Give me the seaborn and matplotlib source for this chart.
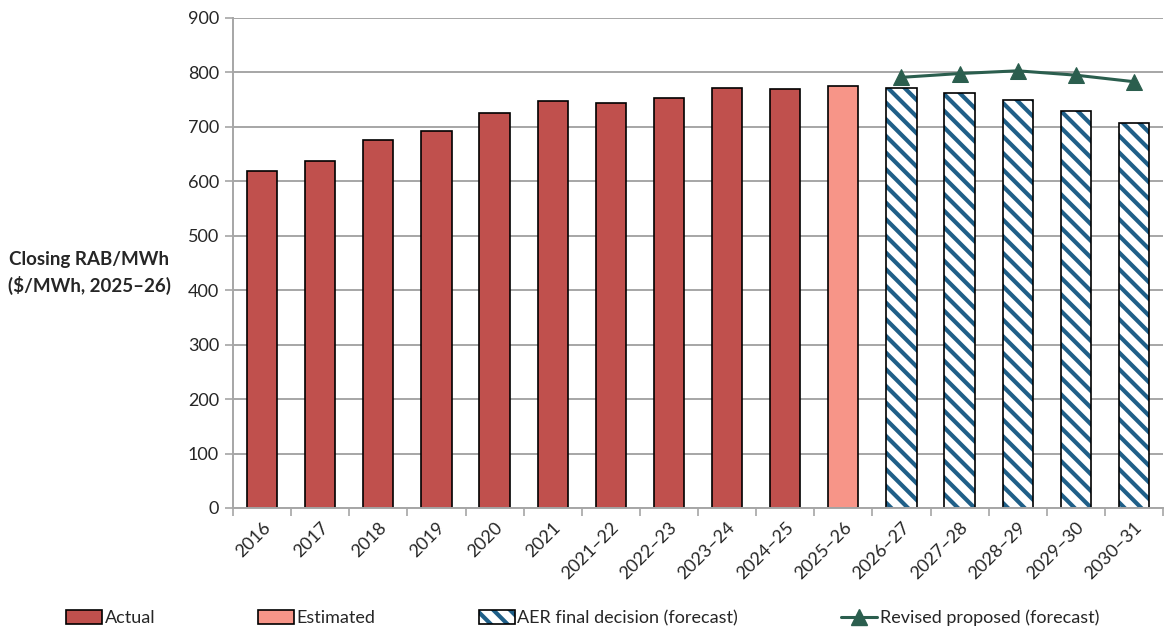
import matplotlib
matplotlib.use("Agg")
import matplotlib.pyplot as plt
import matplotlib.patches as mpatches
import matplotlib.lines as mlines
from matplotlib.legend_handler import HandlerTuple
import numpy as np
import pandas as pd
import seaborn as sns

periods = ["2016", "2017", "2018", "2019", "2020", "2021", "2021–22", "2022–23",
           "2023–24", "2024–25", "2025–26", "2026–27", "2027–28", "2028–29",
           "2029–30", "2030–31"]
rab_values = [619, 637, 676, 693, 726, 748, 744, 753, 771, 769, 776,
              771, 763, 749, 730, 707]
bar_kind = ["Actual"] * 10 + ["Estimated"] + ["AER final decision (forecast)"] * 5

revised_periods = ["2026–27", "2027–28", "2028–29", "2029–30", "2030–31"]
revised_values = [791, 798, 803, 795, 783]

y_ticks = list(range(0, 901, 100))

c_actual = "#C0504D"
c_est = "#F79588"
c_hatch = "#1F5F88"
c_line = "#2B5E4E"
c_grid = "#A6A6A6"
FORECAST = "AER final decision (forecast)"

sns.set_theme(style="white")
plt.rcParams["font.family"] = ["Lato", "DejaVu Sans"]
plt.rcParams["hatch.linewidth"] = 3.0

df = pd.DataFrame({"period": periods, "value": rab_values, "kind": bar_kind})

fig = plt.figure(figsize=(11.65, 6.32), dpi=100)
ax = fig.add_axes([233 / 1165, 1 - 508 / 632, (1163 - 233) / 1165, (508 - 18) / 632])

palette = {"Actual": c_actual, "Estimated": c_est, FORECAST: "white"}
sns.barplot(data=df, x="period", y="value", hue="kind", palette=palette,
            dodge=False, width=0.52, edgecolor="black", linewidth=1.2,
            saturation=1, legend=False, ax=ax, order=periods)

# Forecast bars: blue diagonal stripes inside a black outline
for patch in list(ax.patches):
    x_center = patch.get_x() + patch.get_width() / 2
    idx = int(round(x_center))
    if 0 <= idx < len(bar_kind) and bar_kind[idx] == FORECAST and patch.get_height() > 0:
        patch.set_facecolor("white")
        patch.set_edgecolor(c_hatch)
        patch.set_hatch("\\\\")
        patch.set_linewidth(0)
        ax.add_patch(mpatches.Rectangle((patch.get_x(), patch.get_y()),
                                        patch.get_width(), patch.get_height(),
                                        fill=False, edgecolor="black",
                                        linewidth=1.2, zorder=patch.get_zorder() + 0.1))

line_x = [periods.index(p) for p in revised_periods]
sns.lineplot(x=line_x, y=revised_values, color=c_line, linewidth=2.2,
             marker="^", markersize=12, markeredgecolor=c_line, ax=ax, zorder=5)

ax.set_ylim(0, 900)
ax.set_yticks(y_ticks)
ax.set_xlim(-0.5, len(periods) - 0.5)
ax.yaxis.grid(True, color=c_grid, linewidth=1.4)
ax.set_axisbelow(True)
for side in ["top", "right"]:
    ax.spines[side].set_visible(False)
for side in ["left", "bottom"]:
    ax.spines[side].set_color(c_grid)
    ax.spines[side].set_linewidth(1.4)

ax.tick_params(axis="y", which="major", direction="out", length=6, width=1.2,
               color=c_grid, labelsize=13, pad=4, left=True)
ax.set_xticks(np.arange(len(periods)))
ax.set_xticklabels(periods, rotation=45, ha="right", rotation_mode="anchor",
                   fontsize=13)
ax.tick_params(axis="x", which="major", length=0, pad=8)
ax.set_xticks(np.arange(-0.5, len(periods)), minor=True)
ax.tick_params(axis="x", which="minor", direction="out", length=6, width=1.2,
               color=c_grid, bottom=True)
ax.set_xlabel("")
ax.set_ylabel("")

fig.text(89 / 1165, 1 - 273 / 632, "Closing RAB/MWh\n($/MWh, 2025–26)",
         ha="center", va="center", fontsize=13.5, fontweight="bold",
         linespacing=1.5)

hatch_handle = (
    mpatches.Patch(facecolor="white", edgecolor=c_hatch, linewidth=0, hatch="\\\\"),
    mpatches.Patch(fill=False, edgecolor="black", linewidth=1.2),
)
handles = [
    mpatches.Patch(facecolor=c_actual, edgecolor="black", linewidth=1.2),
    mpatches.Patch(facecolor=c_est, edgecolor="black", linewidth=1.2),
    hatch_handle,
    mlines.Line2D([], [], color=c_line, linewidth=2.2, marker="^", markersize=12),
]
labels = ["Actual", "Estimated", FORECAST, "Revised proposed (forecast)"]
fig.legend(handles, labels, loc="center", bbox_to_anchor=(0.5, 1 - 618 / 632),
           ncol=4, frameon=False, fontsize=13, handlelength=2.0, handleheight=0.75,
           handletextpad=0.15, columnspacing=5.7,
           handler_map={tuple: HandlerTuple(ndivide=1, pad=0)})

fig.savefig("out.png", dpi=100)
